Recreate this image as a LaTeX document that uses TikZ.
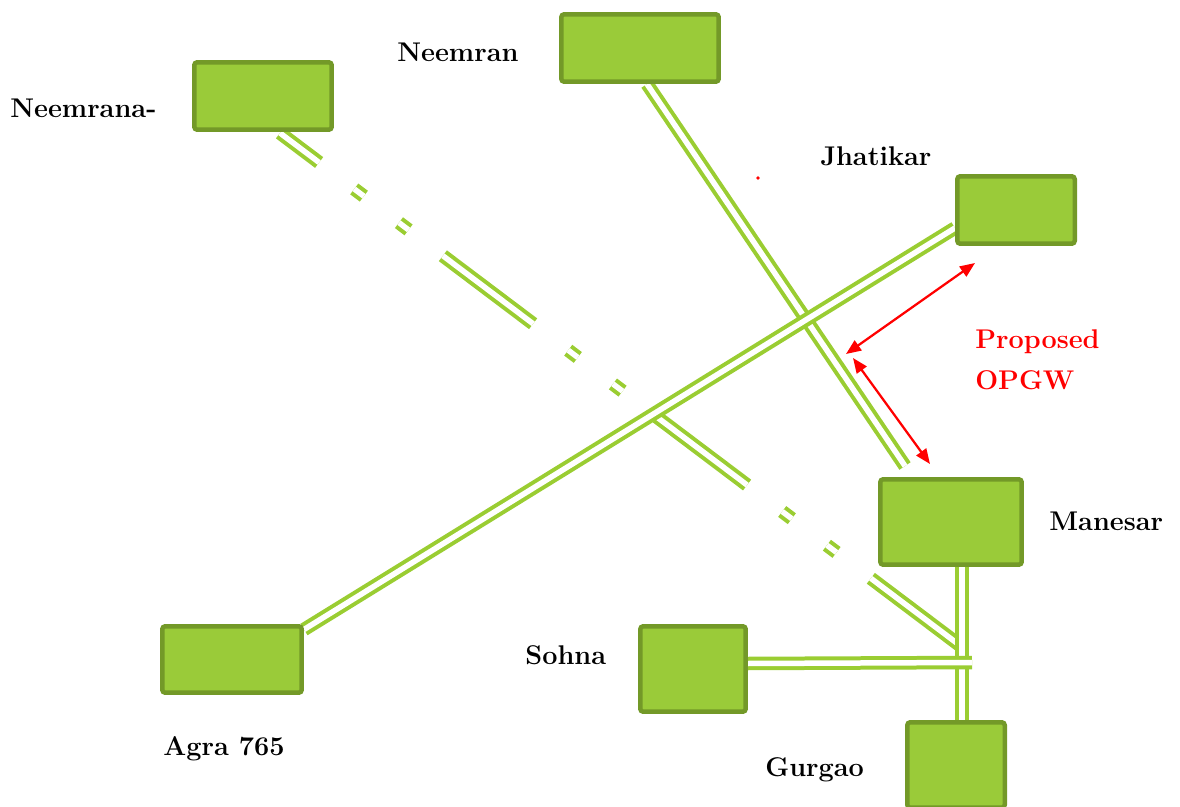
\documentclass[tikz,border=0pt]{standalone}
\usepackage{tikz}
\usetikzlibrary{calc,arrows.meta,backgrounds}
\definecolor{boxgreen}{RGB}{154,203,57}
\definecolor{edgegreen}{RGB}{115,153,40}
\definecolor{wiregreen}{RGB}{154,205,50}

\begin{document}
\begin{tikzpicture}[x=0.02cm,y=-0.02cm,
    stn/.style={draw=edgegreen,fill=boxgreen,line width=0.09cm,rounded corners=0.06cm,outer sep=0pt,inner sep=0pt},
    link/.style={draw=wiregreen,line width=0.08cm,double=white,double distance=0.11cm},
    gaplink/.style={link,dash pattern=on 2.26cm off 0.88cm on 0.24cm off 0.88cm on 0.24cm off 0.86cm,dash phase=1.28cm},
    opgw/.style={draw=red,line width=0.045cm,{Triangle[length=0.3cm,width=0.24cm]}-{Triangle[length=0.3cm,width=0.24cm]}},
    lbl/.style={anchor=base west,inner sep=0pt,font=\fontsize{15.4}{23.3}\selectfont\bfseries}]
    \useasboundingbox (0,0) rectangle (1180,807);
    % stations
    \node[stn,minimum width=2.75cm,minimum height=1.35cm] (neemrana) at (263,96) {};
    \node[stn,minimum width=3.15cm,minimum height=1.35cm] (neemran) at (640,48) {};
    \node[stn,minimum width=2.35cm,minimum height=1.35cm] (jhatikar) at (1016,210) {};
    \node[stn,minimum width=2.83cm,minimum height=1.71cm] (manesar) at (951,522) {};
    \node[stn,minimum width=2.11cm,minimum height=1.71cm] (sohna) at (693,669) {};
    \node[stn,minimum width=2.79cm,minimum height=1.33cm] (agra) at (232,659.5) {};
    \node[stn,minimum width=1.95cm,minimum height=1.71cm] (gurgao) at (956,765) {};
    % names
    \node[lbl] (lneemrana) at (10,118) {Neemrana-};
    \node[lbl] (lneemran) at (397,62) {Neemran};
    \node[lbl] (ljhatikar) at (820,166) {Jhatikar};
    \node[lbl] (lmanesar) at (1049,530) {Manesar};
    \node[lbl] (lsohna) at (525,664) {Sohna};
    \node[lbl] (lagra) at (163,755) {Agra 765};
    \node[lbl] (lgurgao) at (765,776) {Gurgao};
    \node[lbl,anchor=north west,text=red,align=left] (lopgw) at (975,329) {Proposed\\OPGW};
    % free ends
    \coordinate (jn1) at (962,647);
    \coordinate (jn2) at (972,662.5);
    \coordinate (neemranend) at ($(manesar)+(-46,-56)$);
    % lines
    \begin{scope}[on background layer]
        \draw[gaplink] ($(neemrana)+(17,37)$) -- (jn1);
        \draw[link] ($(neemran)+(7,36)$) -- (neemranend);
        \draw[link] ($(jhatikar)+(-61,18)$) -- ($(agra)+(72,-30)$);
        \draw[link] ($(manesar)+(11,45)$) -- ($(gurgao)+(6,-45)$);
        \draw[link] ($(sohna)+(55,-5.5)$) -- (jn2);
    \end{scope}
    % proposed opgw
    \coordinate (a1) at (975,263);
    \coordinate (a2) at (846,354);
    \coordinate (b1) at (853,358);
    \coordinate (b2) at (930,464);
    \draw[opgw] (a1) -- (a2);
    \draw[opgw] (b1) -- (b2);
    \fill[red] (758,178) circle (1.1pt);
\end{tikzpicture}
\end{document}
